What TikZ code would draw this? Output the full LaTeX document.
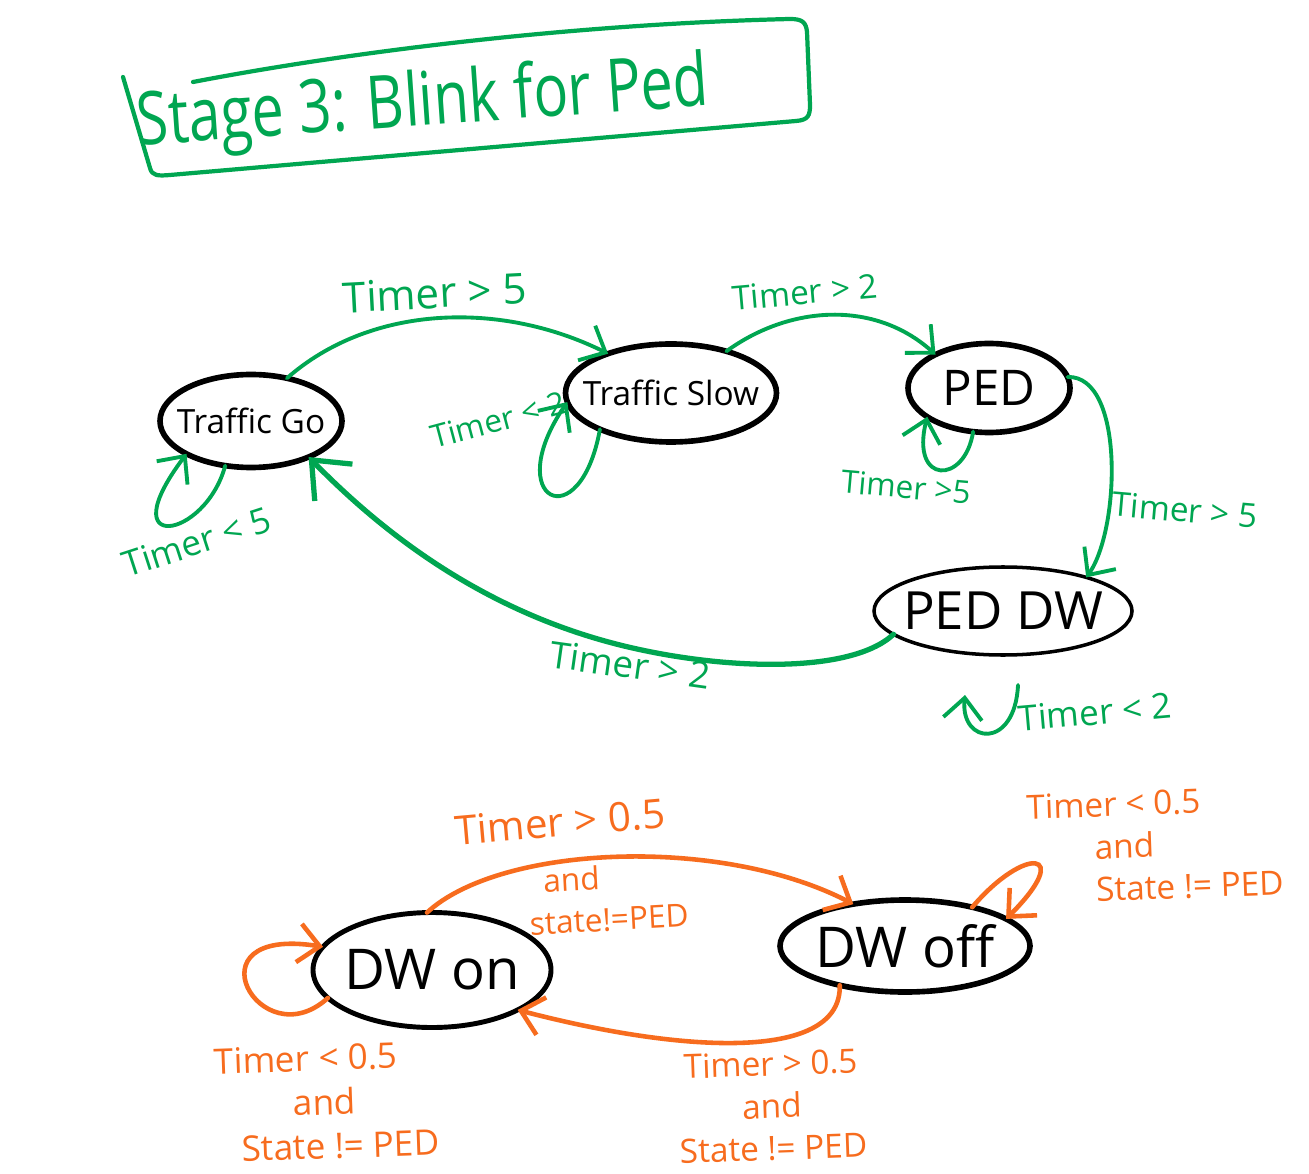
\documentclass[tikz,border=0pt]{standalone}
\usepackage{fontspec}
\usepackage{graphicx}
\setmainfont{Open Sans}
\usetikzlibrary{shapes.geometric,arrows.meta}
\definecolor{grn}{RGB}{0,166,81}
\definecolor{org}{RGB}{247,108,30}
\tikzset{
  stnode/.style={ellipse, draw=black, line width=1.6pt, inner sep=0pt, outer sep=0pt},
  gconn/.style={draw=grn, line width=1.1pt, line cap=round, -{Straight Barb[length=6pt,width=11pt]}},
  oconn/.style={draw=org, line width=1.3pt, line cap=round, -{Straight Barb[length=6pt,width=11pt]}},
  glab/.style={text=grn, inner sep=0pt},
  olab/.style={text=org, inner sep=0pt},
}
\begin{document}
\begin{tikzpicture}
\path[use as bounding box, fill=white] (0,0) rectangle (13.09,-11.73);
% title box
\draw[grn, line width=1.2pt, line cap=round, line join=round]
  (1.23,-0.77) -- (1.50,-1.68) .. controls (1.52,-1.76) and (1.58,-1.76) .. (1.70,-1.75)
  -- (7.96,-1.21) .. controls (8.08,-1.20) and (8.10,-1.16) .. (8.10,-1.05)
  -- (8.07,-0.32) .. controls (8.06,-0.22) and (8.02,-0.19) .. (7.90,-0.19)
  .. controls (5.8,-0.24) and (3.6,-0.5) .. (1.93,-0.82);
\node[text=grn, rotate=4, font=\fontsize{21}{24}\selectfont] (title) at (4.23,-1.06) {\scalebox{0.78}[1]{Stage 3: Blink for Ped}};

% top states
\node[stnode, minimum width=1.82cm, minimum height=0.93cm,
  label={[font=\fontsize{9.5}{11}\selectfont]center:Traffic Go}] (tg) at (2.51,-4.21) {};
\node[stnode, minimum width=2.11cm, minimum height=0.98cm,
  label={[font=\fontsize{9.5}{11}\selectfont]center:Traffic Slow}] (ts) at (6.71,-3.93) {};
\node[stnode, minimum width=1.62cm, minimum height=0.89cm,
  label={[font=\fontsize{14}{16}\selectfont]center:PED}] (ped) at (9.89,-3.88) {};
\node[stnode, line width=1.0pt, minimum width=2.58cm, minimum height=0.88cm,
  label={[font=\fontsize{15}{17}\selectfont]center:PED DW}] (pdw) at (10.03,-6.11) {};

% bottom states
\node[stnode, line width=1.4pt, minimum width=2.38cm, minimum height=1.15cm,
  label={[font=\fontsize{16}{18}\selectfont]center:DW on}] (dwon) at (4.32,-9.70) {};
\node[stnode, line width=1.6pt, minimum width=2.50cm, minimum height=0.92cm,
  label={[font=\fontsize{16}{18}\selectfont]center:DW off}] (dwoff) at (9.05,-9.46) {};

% green connectors
\draw[gconn] (tg.50) .. controls (3.7,-3.05) and (5.0,-3.0) .. (ts.148);
\draw[gconn] (ts.37) .. controls (7.9,-3.05) and (8.75,-3.0) .. (ped.148);
\draw[gconn] (ped.8) .. controls (11.25,-3.75) and (11.2,-5.3) .. (pdw.22);
\draw[gconn, line width=1.5pt, -{Straight Barb[length=9pt,width=15pt]}]
  (pdw.192) .. controls (8.5,-6.75) and (7.2,-6.7) .. (6.2,-6.45)
  .. controls (4.8,-6.1) and (3.8,-5.3) .. (tg.-32);
\draw[gconn] (tg.240) .. controls (2.05,-5.4) and (1.1,-5.55) .. (tg.207);
\draw[gconn] (ts.207) .. controls (5.8,-5.4) and (5.0,-5.0) .. (ts.185);
\draw[gconn] (ped.250) .. controls (9.65,-4.85) and (9.1,-4.85) .. (ped.205);
\coordinate (pl1) at (10.18,-6.85);
\coordinate (pl2) at (9.65,-6.95);
\draw[gconn] (pl1) .. controls (10.15,-7.5) and (9.6,-7.45) .. (pl2);

% green labels
\node[glab, font=\fontsize{12}{14}\selectfont, rotate=3] (l1) at (4.35,-2.93) {Timer > 5};
\node[glab, font=\fontsize{9.5}{11}\selectfont, rotate=5] (l2) at (8.05,-2.92) {Timer > 2};
\node[glab, font=\fontsize{9.5}{11}\selectfont, rotate=-5] (l3) at (11.85,-5.10) {Timer > 5};
\node[glab, font=\fontsize{10.5}{12}\selectfont, rotate=-8] (l4) at (6.30,-6.65) {Timer > 2};
\node[glab, font=\fontsize{10}{12}\selectfont, rotate=18] (l5) at (1.97,-5.42) {Timer < 5};
\node[glab, font=\fontsize{9}{11}\selectfont, rotate=15] (l6) at (4.98,-4.20) {Timer < 2};
\node[glab, font=\fontsize{9}{11}\selectfont, rotate=-5] (l7) at (9.06,-4.87) {Timer >5};
\node[glab, font=\fontsize{10}{12}\selectfont, rotate=5] (l8) at (10.95,-7.12) {Timer < 2};

% orange connectors
\draw[oconn] (dwon.95) .. controls (5.0,-8.45) and (7.2,-8.35) .. (dwoff.141);
\draw[oconn] (dwoff.211) .. controls (8.42,-10.6) and (6.9,-10.55) .. (dwon.-25);
\draw[oconn] (dwoff.30) .. controls (10.25,-8.45) and (10.75,-8.5) .. (dwoff.15);
\draw[oconn] (dwon.195) .. controls (2.6,-10.6) and (1.85,-9.25) .. (dwon.168);

% orange labels
\node[olab, font=\fontsize{11.5}{13}\selectfont, rotate=5] (o1) at (5.60,-8.22) {Timer > 0.5};
\node[olab, align=left, font=\fontsize{9}{12}\selectfont, rotate=3] (o2) at (6.08,-8.98)
  {\hspace{0.5em}and\\state!=PED};
\node[olab, align=center, font=\fontsize{9.5}{12}\selectfont, rotate=2] (o3) at (7.72,-11.06)
  {Timer > 0.5\\and\\State != PED};
\node[olab, align=left, font=\fontsize{9.5}{12}\selectfont, rotate=2] (o4) at (11.55,-8.45)
  {Timer < 0.5\\\hspace{2em}and\\\hspace{2em}State != PED};
\node[olab, align=left, font=\fontsize{10}{12.5}\selectfont, rotate=2] (o5) at (3.27,-11.02)
  {Timer < 0.5\\\hspace{2.2em}and\\\hspace{0.7em}State != PED};
\end{tikzpicture}
\end{document}
